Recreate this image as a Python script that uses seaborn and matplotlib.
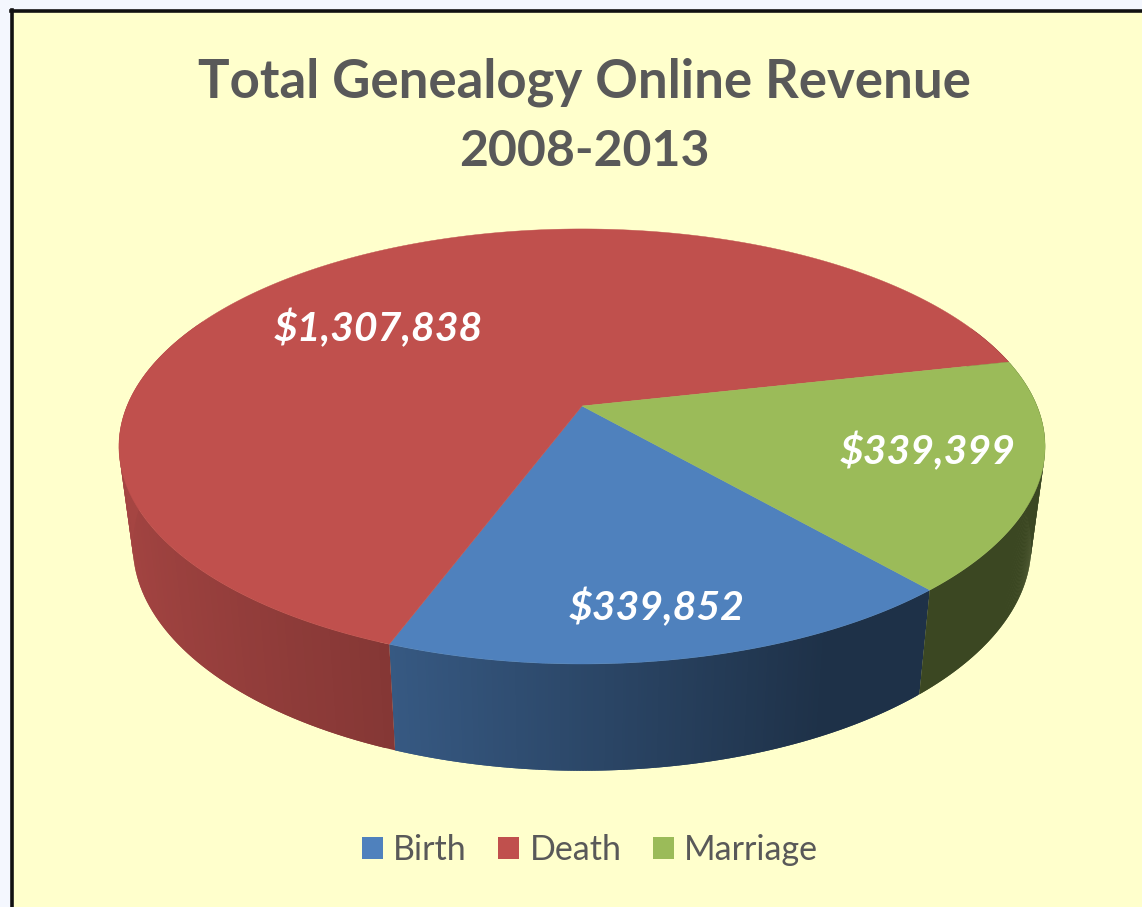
import numpy as np
import matplotlib
matplotlib.use("Agg")
import matplotlib.pyplot as plt
from matplotlib.collections import PolyCollection
from matplotlib.patches import Patch
import seaborn as sns

title_lines = ["Total Genealogy Online Revenue", "2008-2013"]
categories = ["Birth", "Death", "Marriage"]
revenue = [339852, 1307838, 339399]

W, H = 1142, 907
BG = "#FFFFCC"
OUTER = "#F4F7FE"
TEXT = "#595959"

sns.set_theme(style="white")
plt.rcParams['font.family'] = ['Lato', 'DejaVu Sans']
colors = sns.color_palette(["#4F81BD", "#C0504D", "#9BBB59"])

# pie is a flat disc seen in perspective, all in pixels of the figure
CX, CY = 582, 406
A, B, K = 455, 210, 0.186
START = 48.9      # degrees, clockwise on screen from the right
DROP, SX, SY = 98, 0.97, 1.034


def project(t, bottom=False):
    u, v = np.cos(t), np.sin(t)
    w = 1 - K * v
    x, y = A * u / w, B * v / w
    if bottom:
        return CX + SX * x, CY + DROP + SY * y
    return CX + x, CY + y


def shade(t):
    # side gets darker from left to right
    return np.interp(np.cos(t), [-1, -0.35, 0.45, 1], [0.86, 0.69, 0.38, 0.38])


fig = plt.figure(figsize=(W / 100, H / 100), dpi=100, facecolor=OUTER)
ax = fig.add_axes([11.5 / W, 0, 1 - 11.5 / W, 1 - 10.5 / H], facecolor=BG)
ax.set_xlim(11.5, W)
ax.set_ylim(H, 10.5)
ax.set_xticks([])
ax.set_yticks([])
sns.despine(ax=ax, top=False, left=False, right=True, bottom=True)
for side in ["left", "top"]:
    ax.spines[side].set_color("#111111")
    ax.spines[side].set_linewidth(2.6)

shares = np.array(revenue) / sum(revenue)
edges = np.radians(START) + 2 * np.pi * np.concatenate([[0], np.cumsum(shares)])

# side wall first, the top is painted over it
for i, c in enumerate(colors):
    ts = np.linspace(edges[i], edges[i + 1], 200)
    step = ts[1] - ts[0]
    polys, faces = [], []
    for t0 in ts[:-1]:
        if np.sin(t0) < -0.4:
            continue
        # each strip runs a little under the next one so no seams show
        t1 = min(t0 + 2 * step, edges[i + 1])
        x0, y0 = project(t0)
        x1, y1 = project(t1)
        x2, y2 = project(t1, bottom=True)
        x3, y3 = project(t0, bottom=True)
        polys.append([(x0, y0), (x1, y1), (x2, y2), (x3, y3)])
        faces.append(tuple(np.array(c) * shade(t0 + step / 2)))
    if polys:
        ax.add_collection(PolyCollection(polys, facecolors=faces, edgecolors="none"))

# top of the pie
for i, c in enumerate(colors):
    ts = np.linspace(edges[i], edges[i + 1], 300)
    x, y = project(ts)
    ax.fill(np.r_[CX, x], np.r_[CY, y], color=c, lw=0.3, zorder=3)

# labels
label_pos = [(657, 608), (378, 329), (928, 452)]
for val, (lx, ly) in zip(revenue, label_pos):
    ax.text(lx, ly, f"\\${val:,}", color="white", fontsize=29.5, fontweight="bold",
            fontstyle="italic", ha="center", va="center", zorder=5)

ax.text(584, 82, title_lines[0], color=TEXT, fontsize=38, fontweight="bold", ha="center", va="center")
ax.text(584, 152, title_lines[1], color=TEXT, fontsize=36, fontweight="bold", ha="center", va="center")

handles = [Patch(facecolor=c, edgecolor="none", label=n) for c, n in zip(colors, categories)]
ax.legend(handles=handles, ncol=3, frameon=False, loc="center", bbox_to_anchor=(590, 850),
          bbox_transform=ax.transData, fontsize=24.5, labelcolor=TEXT, handlelength=0.62,
          handleheight=0.62, handletextpad=0.3, columnspacing=0.92)

fig.savefig("out.png", dpi=100, facecolor=OUTER)
